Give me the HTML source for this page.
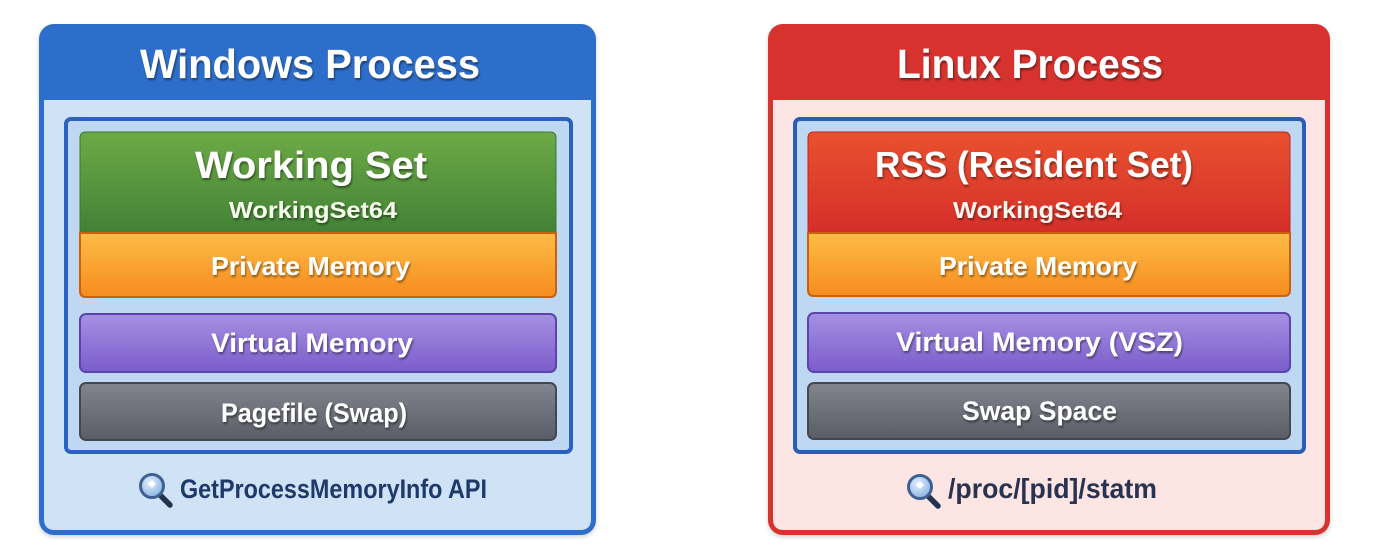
<!DOCTYPE html>
<html>
<head>
<meta charset="utf-8">
<style>
  html, body { margin: 0; padding: 0; background: #ffffff; }
  svg { display: block; }
  text { font-family: "Liberation Sans", "DejaVu Sans", sans-serif; font-weight: bold; }
</style>
</head>
<body>
<svg width="1373" height="549" viewBox="0 0 1373 549" xmlns="http://www.w3.org/2000/svg">
  <defs>
    <filter id="ts" x="-10%" y="-30%" width="120%" height="160%">
      <feDropShadow dx="1" dy="2" stdDeviation="1.1" flood-color="#000" flood-opacity="0.45"/>
    </filter>
    <filter id="bs" x="-5%" y="-5%" width="110%" height="110%">
      <feDropShadow dx="0" dy="2" stdDeviation="2" flood-color="#000" flood-opacity="0.18"/>
    </filter>
    <linearGradient id="gGreen" x1="0" y1="0" x2="0" y2="1">
      <stop offset="0" stop-color="#6DAA45"/>
      <stop offset="1" stop-color="#3F7E36"/>
    </linearGradient>
    <linearGradient id="gRed" x1="0" y1="0" x2="0" y2="1">
      <stop offset="0" stop-color="#E9512F"/>
      <stop offset="1" stop-color="#D42C29"/>
    </linearGradient>
    <linearGradient id="gOrange" x1="0" y1="0" x2="0" y2="1">
      <stop offset="0" stop-color="#FDBC46"/>
      <stop offset="1" stop-color="#F68C1F"/>
    </linearGradient>
    <linearGradient id="gPurple" x1="0" y1="0" x2="0" y2="1">
      <stop offset="0" stop-color="#A690E2"/>
      <stop offset="1" stop-color="#7B5DCB"/>
    </linearGradient>
    <linearGradient id="gGray" x1="0" y1="0" x2="0" y2="1">
      <stop offset="0" stop-color="#82848E"/>
      <stop offset="1" stop-color="#5A5C66"/>
    </linearGradient>
    <radialGradient id="gLens" cx="0.4" cy="0.35" r="0.7">
      <stop offset="0" stop-color="#E4F0FC"/>
      <stop offset="1" stop-color="#86B0E3"/>
    </radialGradient>
  </defs>

  <!-- ================= WINDOWS ================= -->
  <g filter="url(#bs)">
    <rect x="39" y="24" width="557" height="511" rx="15" fill="#2F6ECB"/>
  </g>
  <path d="M44,100 H591 V519 Q591,530 580,530 H55 Q44,530 44,519 Z" fill="#CFE2F6"/>
  <text x="140" y="78" font-size="41" fill="#ffffff" textLength="340" lengthAdjust="spacingAndGlyphs" filter="url(#ts)">Windows Process</text>

  <!-- inner box -->
  <rect x="66" y="119" width="505" height="333" rx="5" fill="#BED7F2" stroke="#2C62BF" stroke-width="4"/>

  <!-- Working set (green) -->
  <path d="M80,240 V138 Q80,132 86,132 H550 Q556,132 556,138 V240 Z" fill="url(#gGreen)" stroke="#3B772F" stroke-width="1"/>
  <!-- Private memory (orange) -->
  <path d="M80,233 H556 V291 Q556,297 550,297 H86 Q80,297 80,291 Z" fill="url(#gOrange)" stroke="#C9620E" stroke-width="2"/>
  <text x="195" y="178" font-size="38" fill="#ffffff" textLength="232" lengthAdjust="spacingAndGlyphs" filter="url(#ts)">Working Set</text>
  <text x="229" y="218" font-size="23" fill="#F4FBEA" textLength="168" lengthAdjust="spacingAndGlyphs" filter="url(#ts)">WorkingSet64</text>
  <text x="211" y="275" font-size="26" fill="#ffffff" textLength="199" lengthAdjust="spacingAndGlyphs" filter="url(#ts)">Private Memory</text>

  <!-- Virtual memory -->
  <rect x="80" y="314" width="476" height="58" rx="6" fill="url(#gPurple)" stroke="#5A45AD" stroke-width="2"/>
  <text x="211" y="352" font-size="27" fill="#ffffff" textLength="202" lengthAdjust="spacingAndGlyphs" filter="url(#ts)">Virtual Memory</text>

  <!-- Pagefile -->
  <rect x="80" y="383" width="476" height="57" rx="6" fill="url(#gGray)" stroke="#45474F" stroke-width="2"/>
  <text x="221" y="422" font-size="27" fill="#ffffff" textLength="186" lengthAdjust="spacingAndGlyphs" filter="url(#ts)">Pagefile (Swap)</text>

  <!-- footer -->
  <g>
    <line x1="160" y1="495" x2="170" y2="505" stroke="#23324F" stroke-width="5.5" stroke-linecap="round"/>
    <circle cx="152" cy="486" r="11.5" fill="url(#gLens)" stroke="#3F6192" stroke-width="3"/>
    <path d="M148,484 l4,-4 l4,4 l-4,4 z" fill="#ffffff"/>
  </g>
  <text x="180" y="498" font-size="27" fill="#1F3A6A" textLength="307" lengthAdjust="spacingAndGlyphs">GetProcessMemoryInfo API</text>

  <!-- ================= LINUX ================= -->
  <g filter="url(#bs)">
    <rect x="768" y="24" width="562" height="511" rx="15" fill="#D7302F"/>
  </g>
  <path d="M773,100 H1325 V519 Q1325,530 1314,530 H784 Q773,530 773,519 Z" fill="#FCE5E3"/>
  <text x="897" y="78" font-size="41" fill="#ffffff" textLength="266" lengthAdjust="spacingAndGlyphs" filter="url(#ts)">Linux Process</text>

  <!-- inner box -->
  <rect x="795" y="119" width="509" height="333" rx="5" fill="#BED7F2" stroke="#2C5DB5" stroke-width="4"/>

  <!-- RSS (red) -->
  <path d="M808,240 V138 Q808,132 814,132 H1284 Q1290,132 1290,138 V240 Z" fill="url(#gRed)" stroke="#B8261F" stroke-width="1"/>
  <!-- Private memory (orange) -->
  <path d="M808,233 H1290 V290 Q1290,296 1284,296 H814 Q808,296 808,290 Z" fill="url(#gOrange)" stroke="#C9620E" stroke-width="2"/>
  <text x="875" y="177" font-size="36" fill="#ffffff" textLength="318" lengthAdjust="spacingAndGlyphs" filter="url(#ts)">RSS (Resident Set)</text>
  <text x="953" y="218" font-size="23" fill="#FFF4EE" textLength="169" lengthAdjust="spacingAndGlyphs" filter="url(#ts)">WorkingSet64</text>
  <text x="939" y="275" font-size="26" fill="#ffffff" textLength="198" lengthAdjust="spacingAndGlyphs" filter="url(#ts)">Private Memory</text>

  <!-- Virtual memory -->
  <rect x="808" y="313" width="482" height="59" rx="6" fill="url(#gPurple)" stroke="#5A45AD" stroke-width="2"/>
  <text x="896" y="351" font-size="27" fill="#ffffff" textLength="287" lengthAdjust="spacingAndGlyphs" filter="url(#ts)">Virtual Memory (VSZ)</text>

  <!-- Swap -->
  <rect x="808" y="383" width="482" height="56" rx="6" fill="url(#gGray)" stroke="#45474F" stroke-width="2"/>
  <text x="962" y="420" font-size="27" fill="#ffffff" textLength="155" lengthAdjust="spacingAndGlyphs" filter="url(#ts)">Swap Space</text>

  <!-- footer -->
  <g>
    <line x1="928" y1="496" x2="938" y2="506" stroke="#23324F" stroke-width="5.5" stroke-linecap="round"/>
    <circle cx="920" cy="487" r="11.5" fill="url(#gLens)" stroke="#3F6192" stroke-width="3"/>
    <path d="M916,485 l4,-4 l4,4 l-4,4 z" fill="#ffffff"/>
  </g>
  <text x="948" y="498" font-size="28" fill="#29324F" textLength="209" lengthAdjust="spacingAndGlyphs">/proc/[pid]/statm</text>
</svg>
</body>
</html>
